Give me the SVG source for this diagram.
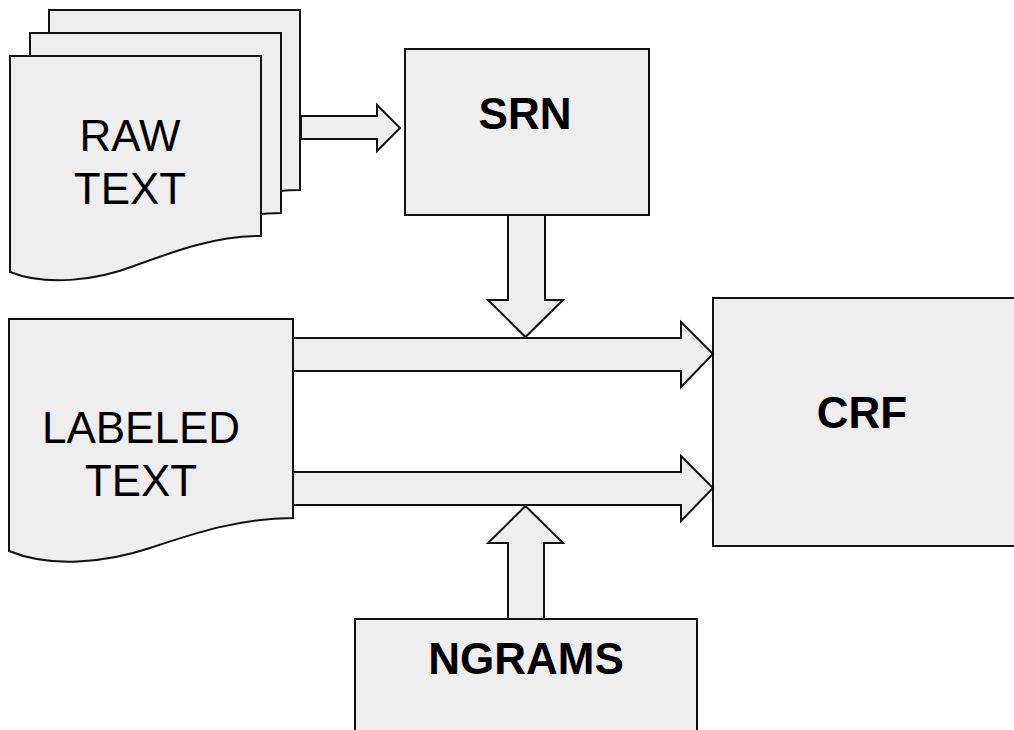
<svg xmlns="http://www.w3.org/2000/svg" width="1014" height="730" viewBox="0 0 1014 730">
<defs>
<style>
.shape{fill:#eeeeee;stroke:#111111;stroke-width:2;stroke-linejoin:miter}
.lbl{font-family:"Liberation Sans",Arial,sans-serif;font-size:44px;fill:#000;text-anchor:middle}
.bold{font-weight:bold}
</style>
<path id="rawpage" d="M10,56 H261 V236 C215,236 175,251 134,266 C95,281 45,286 10,272 Z"/>
</defs>
<rect width="1014" height="730" fill="#ffffff"/>
<g id="raw-text">
<use href="#rawpage" class="shape" transform="translate(39,-46)"/>
<use href="#rawpage" class="shape" transform="translate(20,-23)"/>
<use href="#rawpage" class="shape"/>
<text class="lbl" x="130" y="151">RAW</text>
<text class="lbl" x="130" y="204">TEXT</text>
</g>
<g id="srn">
<rect class="shape" x="405" y="49" width="244" height="166"/>
<text class="lbl bold" x="525" y="129">SRN</text>
</g>
<g id="labeled-text">
<path class="shape" d="M9,319 H293 V518 C240,518 195,533 150,548 C105,563 50,568 9,551 Z"/>
<text class="lbl" x="141" y="443">LABELED</text>
<text class="lbl" x="141" y="496">TEXT</text>
</g>
<g id="crf">
<rect class="shape" x="713" y="298" width="320" height="248"/>
<text class="lbl bold" x="862" y="428">CRF</text>
</g>
<g id="ngrams">
<rect class="shape" x="355" y="619" width="342" height="130"/>
<text class="lbl bold" x="526" y="674">NGRAMS</text>
</g>
<g id="connectors">
<polygon class="shape" points="301,116 377,116 377,105 400,128 377,151 377,139 301,139"/>
<polygon class="shape" points="508,215 545,215 545,300 563,300 525.5,337 488,300 508,300"/>
<polygon class="shape" points="293,338 681,338 681,322 713,354 681,387 681,371 293,371"/>
<polygon class="shape" points="293,472 681,472 681,456 713,488 681,521 681,505 293,505"/>
<polygon class="shape" points="508,619 508,543 488,543 525.5,506 563,543 544,543 544,619"/>
</g>
</svg>
